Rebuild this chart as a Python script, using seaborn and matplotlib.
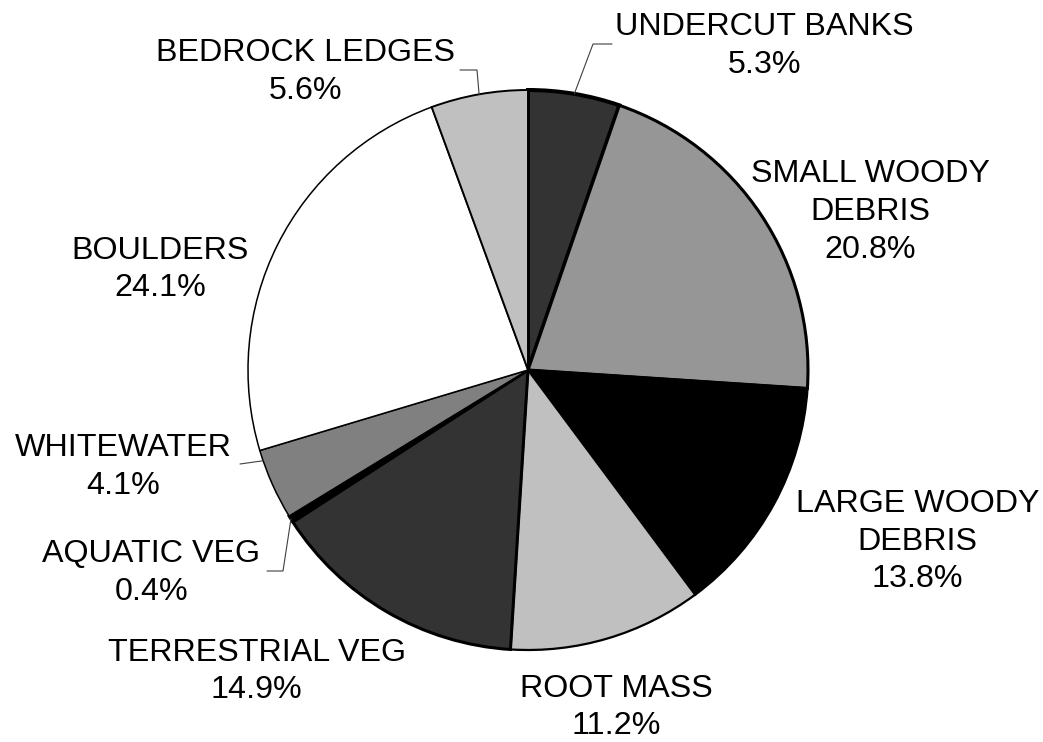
import numpy as np
import matplotlib
matplotlib.use("Agg")
import matplotlib.pyplot as plt
import seaborn as sns

# habitat cover types, percent of total
categories = ["UNDERCUT BANKS", "SMALL WOODY\nDEBRIS", "LARGE WOODY\nDEBRIS", "ROOT MASS",
              "TERRESTRIAL VEG", "AQUATIC VEG", "WHITEWATER", "BOULDERS", "BEDROCK LEDGES"]
percents = [5.3, 20.8, 13.8, 11.2, 14.9, 0.4, 4.1, 24.1, 5.6]

# styling per slice
colors = ["#333333", "#969696", "#000000", "#c0c0c0", "#333333",
          "#000000", "#808080", "#ffffff", "#c0c0c0"]
edge_widths = [2.9, 2.2, 1.8, 1.6, 2.2, 2.2, 1.1, 1.1, 1.4]

# label block centres, in pixels relative to the pie centre
label_pos = [(236.5, 324), (342, 158), (389.5, -171.5), (88, -337.5), (-271.5, -301.5),
             (-376.5, -203), (-404.5, -97), (-368, 100.5), (-222, 298)]

# leader elbows (pixels from centre); the first point is taken from the wedge
leaders = {0: [(65, 326), (84, 326)],
           8: [(-51, 300), (-68, 300)],
           5: [(-245, -201), (-261, -201)],
           6: [(-288, -94)]}

sns.set_style("white")
plt.rcParams['font.family'] = ['Liberation Sans', 'DejaVu Sans']

R = 280
fig = plt.figure(figsize=(10.43, 7.42), dpi=100)
ax = fig.add_axes([0, 0, 1, 1])

wedges, _ = ax.pie(percents, colors=colors, startangle=90, counterclock=False,
                   radius=R, center=(0, 0),
                   wedgeprops=dict(edgecolor="black", linewidth=1.5))
for w, lw in zip(wedges, edge_widths):
    w.set_linewidth(lw)
    w.set_joinstyle("miter")

for i, (name, pct) in enumerate(zip(categories, percents)):
    x, y = label_pos[i]
    ax.text(x, y, f"{name}\n{pct:.1f}%", ha="center", va="center",
            multialignment="center", fontsize=23.2, linespacing=1.33, color="black")

for i, pts in leaders.items():
    w = wedges[i]
    if i == 6:
        ang = np.deg2rad(w.theta1 + 0.15 * (w.theta2 - w.theta1))
    else:
        ang = np.deg2rad((w.theta1 + w.theta2) / 2)
    xs = [R * np.cos(ang)] + [p[0] for p in pts]
    ys = [R * np.sin(ang)] + [p[1] for p in pts]
    ax.plot(xs, ys, color="#404040", lw=0.8, solid_joinstyle="miter")

ax.set_xlim(-528, 515)
ax.set_ylim(-372, 370)
ax.set_aspect("equal")
ax.axis("off")

fig.savefig("out.png", dpi=100, facecolor="white")
plt.close(fig)
